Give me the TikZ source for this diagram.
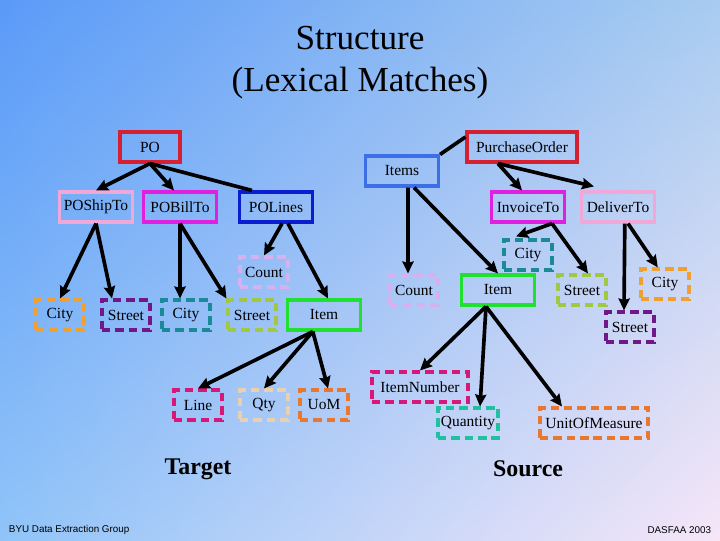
\documentclass[tikz,border=0pt]{standalone}
\usepackage{fontspec}
\setmainfont{Liberation Serif}
\newfontfamily\footfont{Liberation Sans}
\usetikzlibrary{arrows.meta, shadings}

\definecolor{bgTL}{HTML}{5A9AF8}
\definecolor{bgTR}{HTML}{A8CCF0}
\definecolor{bgBL}{HTML}{90C4F8}
\definecolor{bgBR}{HTML}{F6E6F8}
\definecolor{cRed}{HTML}{D42030}
\definecolor{cRoyal}{HTML}{3C6EE8}
\definecolor{cNavy}{HTML}{0A1ED0}
\definecolor{cRose}{HTML}{F0A8D8}
\definecolor{cMagenta}{HTML}{E020E0}
\definecolor{cOrange}{HTML}{F0A030}
\definecolor{cPurple}{HTML}{701888}
\definecolor{cTeal}{HTML}{1A8A98}
\definecolor{cLime}{HTML}{A0C840}
\definecolor{cGreen}{HTML}{20E030}
\definecolor{cLavender}{HTML}{D8B0F0}
\definecolor{cPink}{HTML}{D81878}
\definecolor{cBeige}{HTML}{E8D0B0}
\definecolor{cRust}{HTML}{E87830}
\definecolor{cSea}{HTML}{20C0A0}

\tikzset{
  tag/.style={draw, line width=2.2pt, minimum width=1.2cm, minimum height=0.75cm,
              inner sep=1pt, font=\fontsize{11}{13}\selectfont},
  solidtag/.style={tag, minimum width=1.825cm},
  dashtag/.style={tag, dash pattern=on 6pt off 3.5pt},
  link/.style={line width=2.6pt},
}

\begin{document}
\begin{tikzpicture}[x=0.025cm, y=-0.025cm, >={Stealth[length=3mm, width=2.8mm, inset=0.4mm]}]
  \useasboundingbox (0,0) rectangle (720,540);
  \shade[upper left=bgTL, upper right=bgTR, lower left=bgBL, lower right=bgBR]
        (0,0) rectangle (720,540);

  \node[align=center, font=\fontsize{25}{30}\selectfont] (title) at (360,63)
        {Structure\\(Lexical Matches)};

  % target side
  \node[solidtag, draw=cRed, minimum width=1.5cm] (PO) at (150,147) {PO};
  \node[solidtag, draw=cRose] (POShipTo) at (96,207) {POShipTo};
  \node[solidtag, draw=cMagenta] (POBillTo) at (180,207) {POBillTo};
  \node[solidtag, draw=cNavy] (POLines) at (276,207) {POLines};
  \node[dashtag, draw=cLavender] (CountA) at (264,272) {Count};
  \node[dashtag, draw=cOrange] (CityA) at (60,315) {City};
  \node[dashtag, draw=cPurple] (StreetA) at (126,315) {Street};
  \node[dashtag, draw=cTeal] (CityB) at (186,315) {City};
  \node[dashtag, draw=cLime] (StreetB) at (252,315) {Street};
  \node[solidtag, draw=cGreen] (ItemA) at (324,315) {Item};
  \node[dashtag, draw=cPink] (Line) at (198,405) {Line};
  \node[dashtag, draw=cBeige] (Qty) at (264,405) {Qty};
  \node[dashtag, draw=cRust] (UoM) at (324,405) {UoM};

  % source side
  \node[solidtag, draw=cRed, minimum width=2.75cm] (PurchaseOrder) at (522,147) {PurchaseOrder};
  \node[solidtag, draw=cRoyal] (Items) at (402,171) {Items};
  \node[solidtag, draw=cMagenta] (InvoiceTo) at (528,207) {InvoiceTo};
  \node[solidtag, draw=cRose] (DeliverTo) at (618,207) {DeliverTo};
  \node[dashtag, draw=cTeal] (CityC) at (528,255) {City};
  \node[dashtag, draw=cLavender] (CountB) at (414,290) {Count};
  \node[solidtag, draw=cGreen] (ItemB) at (498,290) {Item};
  \node[dashtag, draw=cLime] (StreetC) at (582,290) {Street};
  \node[dashtag, draw=cOrange] (CityD) at (665,284) {City};
  \node[dashtag, draw=cPurple] (StreetD) at (630,327) {Street};
  \node[dashtag, draw=cPink, minimum width=2.4cm] (ItemNumber) at (420,387) {ItemNumber};
  \node[dashtag, draw=cSea, minimum width=1.5cm] (Quantity) at (468,423) {Quantity};
  \node[dashtag, draw=cRust, minimum width=2.7cm] (UnitOfMeasure) at (594,423) {UnitOfMeasure};

  \node[font=\bfseries\fontsize{17}{20}\selectfont] (target) at (198,469) {Target};
  \node[font=\bfseries\fontsize{17}{20}\selectfont] (source) at (528,469) {Source};

  \node[anchor=west, font=\footfont\fontsize{7}{8}\selectfont] (group) at (4,530) {BYU Data Extraction Group};
  \node[anchor=east, font=\footfont\fontsize{7}{8}\selectfont] (conf) at (716,530) {DASFAA 2003};

  % target edges
  \draw[link, ->] (PO.south) -- (POShipTo.north);
  \draw[link, ->] (PO.south) -- ([xshift=-0.15cm]POBillTo.north);
  \draw[link] (PO.south) -- ([xshift=-0.6cm]POLines.north);
  \draw[link, ->] (POShipTo.south) -- (CityA.north);
  \draw[link, ->] (POShipTo.south) -- ([xshift=-0.35cm]StreetA.north);
  \draw[link, ->] (POBillTo.south) -- ([xshift=-0.15cm]CityB.north);
  \draw[link, ->] (POBillTo.south) -- (StreetB.north west);
  \draw[link, ->] ([xshift=0.15cm]POLines.south) -- (CountA.north);
  \draw[link, ->] ([xshift=0.3cm]POLines.south) -- ([xshift=0.1cm]ItemA.north);
  \draw[link, ->] ([xshift=-0.28cm]ItemA.south) -- (Line.north);
  \draw[link, ->] ([xshift=-0.28cm]ItemA.south) -- (Qty.north);
  \draw[link, ->] ([xshift=-0.28cm]ItemA.south) -- ([xshift=0.1cm]UoM.north);

  % source edges
  \draw[link] ([yshift=0.25cm]PurchaseOrder.west) -- (Items.north east);
  \draw[link, ->] ([xshift=-0.6cm]PurchaseOrder.south) -- ([xshift=-0.15cm]InvoiceTo.north);
  \draw[link, ->] ([xshift=-0.6cm]PurchaseOrder.south) -- ([xshift=-0.6cm, yshift=0.1cm]DeliverTo.north);
  \draw[link, ->] ([xshift=0.15cm]Items.south) -- ([xshift=-0.15cm]CountB.north);
  \draw[link, ->] ([xshift=0.3cm]Items.south) -- (ItemB.north);
  \draw[link, ->] ([xshift=0.6cm]InvoiceTo.south) -- ([xshift=-0.3cm, yshift=0.05cm]CityC.north);
  \draw[link, ->] ([xshift=0.6cm]InvoiceTo.south) -- ([xshift=0.15cm]StreetC.north);
  \draw[link, ->] ([xshift=0.17cm]DeliverTo.south) -- ([xshift=-0.15cm]StreetD.north);
  \draw[link, ->] ([xshift=0.25cm]DeliverTo.south) -- ([xshift=-0.18cm]CityD.north);
  \draw[link, ->] ([xshift=-0.3cm]ItemB.south) -- (ItemNumber.north);
  \draw[link, ->] ([xshift=-0.3cm]ItemB.south) -- ([xshift=0.3cm]Quantity.north);
  \draw[link, ->] ([xshift=-0.3cm]ItemB.south) -- ([xshift=-0.8cm]UnitOfMeasure.north);
\end{tikzpicture}
\end{document}
